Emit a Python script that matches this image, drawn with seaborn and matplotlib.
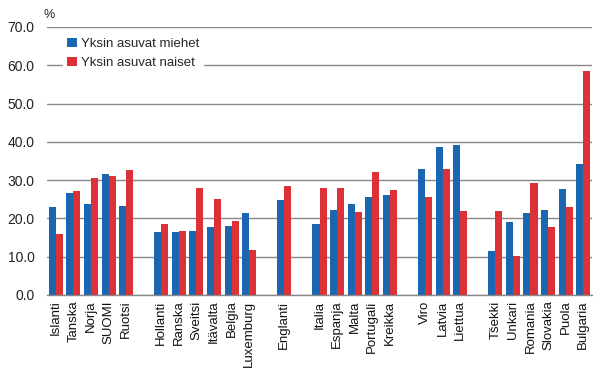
import matplotlib
matplotlib.use("Agg")
import matplotlib.pyplot as plt
import seaborn as sns
import pandas as pd

categories = ["Islanti", "Tanska", "Norja", "SUOMI", "Ruotsi", " ",
              "Hollanti", "Ranska", "Sveitsi", "Itävalta", "Belgia", "Luxemburg", "  ",
              "Englanti", "   ",
              "Italia", "Espanja", "Malta", "Portugali", "Kreikka", "    ",
              "Viro", "Latvia", "Liettua", "     ",
              "Tšekki", "Unkari", "Romania", "Slovakia", "Puola", "Bulgaria"]

countries = ["Islanti", "Tanska", "Norja", "SUOMI", "Ruotsi",
             "Hollanti", "Ranska", "Sveitsi", "Itävalta", "Belgia", "Luxemburg",
             "Englanti",
             "Italia", "Espanja", "Malta", "Portugali", "Kreikka",
             "Viro", "Latvia", "Liettua",
             "Tšekki", "Unkari", "Romania", "Slovakia", "Puola", "Bulgaria"]

miehet = [23.0, 26.7, 23.8, 31.6, 23.3,
          16.5, 16.5, 16.7, 17.8, 18.0, 21.4,
          24.8,
          18.6, 22.2, 23.8, 25.6, 26.2,
          33.0, 38.7, 39.2,
          11.5, 19.1, 21.4, 22.2, 27.7, 34.3]

naiset = [16.0, 27.2, 30.6, 31.1, 32.7,
          18.6, 16.7, 28.0, 25.1, 19.4, 11.8,
          28.5,
          28.0, 28.0, 21.7, 32.2, 27.5,
          25.6, 33.0, 22.0,
          22.0, 10.2, 29.3, 17.8, 23.0, 58.6]

series = ["Yksin asuvat miehet", "Yksin asuvat naiset"]
colors = ["#1A66B1", "#DC3237"]
yticks = [0, 10, 20, 30, 40, 50, 60, 70]

df = pd.DataFrame({
    "maa": countries * 2,
    "arvo": miehet + naiset,
    "sarja": [series[0]] * len(countries) + [series[1]] * len(countries),
})

sns.set_style("white")
plt.rcParams["font.family"] = ["Liberation Sans", "DejaVu Sans"]

fig = plt.figure(figsize=(6.07, 3.80), dpi=100)
ax = fig.add_axes([47 / 607, 1 - 295 / 380, (592 - 47) / 607, (295 - 27) / 380])

sns.barplot(data=df, x="maa", y="arvo", hue="sarja", order=categories,
            hue_order=series, palette=colors, width=0.8, saturation=1,
            errorbar=None, ax=ax, zorder=3, linewidth=0)

ax.set_xlim(-0.5, len(categories) - 0.5)
ax.set_ylim(0, 70)
ax.set_yticks(yticks)
ax.set_yticklabels([f"{v:.1f}" for v in yticks], fontsize=10, color="#222222")
ax.tick_params(axis="y", length=0, pad=9)
ax.tick_params(axis="x", length=0, pad=4)
ax.set_xticks(range(len(categories)))
ax.set_xticklabels(categories, rotation=90, fontsize=9.5, color="#111111")
ax.set_xlabel("")
ax.set_ylabel("")
ax.grid(axis="y", color="#898989", linewidth=1, zorder=0)
for s in ["left", "right", "top"]:
    ax.spines[s].set_visible(False)
ax.spines["bottom"].set_color("#898989")
ax.spines["bottom"].set_linewidth(1)
ax.spines["bottom"].set_zorder(4)

fig.text(44 / 607, 1 - 15 / 380, "%", fontsize=9, va="center", ha="left", color="#222222")

leg = ax.legend(loc="upper left", bbox_to_anchor=(0.03, 0.975), frameon=True,
                fontsize=9.5, handlelength=0.7, handleheight=0.7, handletextpad=0.3,
                labelspacing=0.55, borderpad=0.3, borderaxespad=0)
leg.get_frame().set_facecolor("white")
leg.get_frame().set_edgecolor("white")
leg.get_frame().set_alpha(1)
leg.set_zorder(5)

fig.savefig("out.png", dpi=100)
